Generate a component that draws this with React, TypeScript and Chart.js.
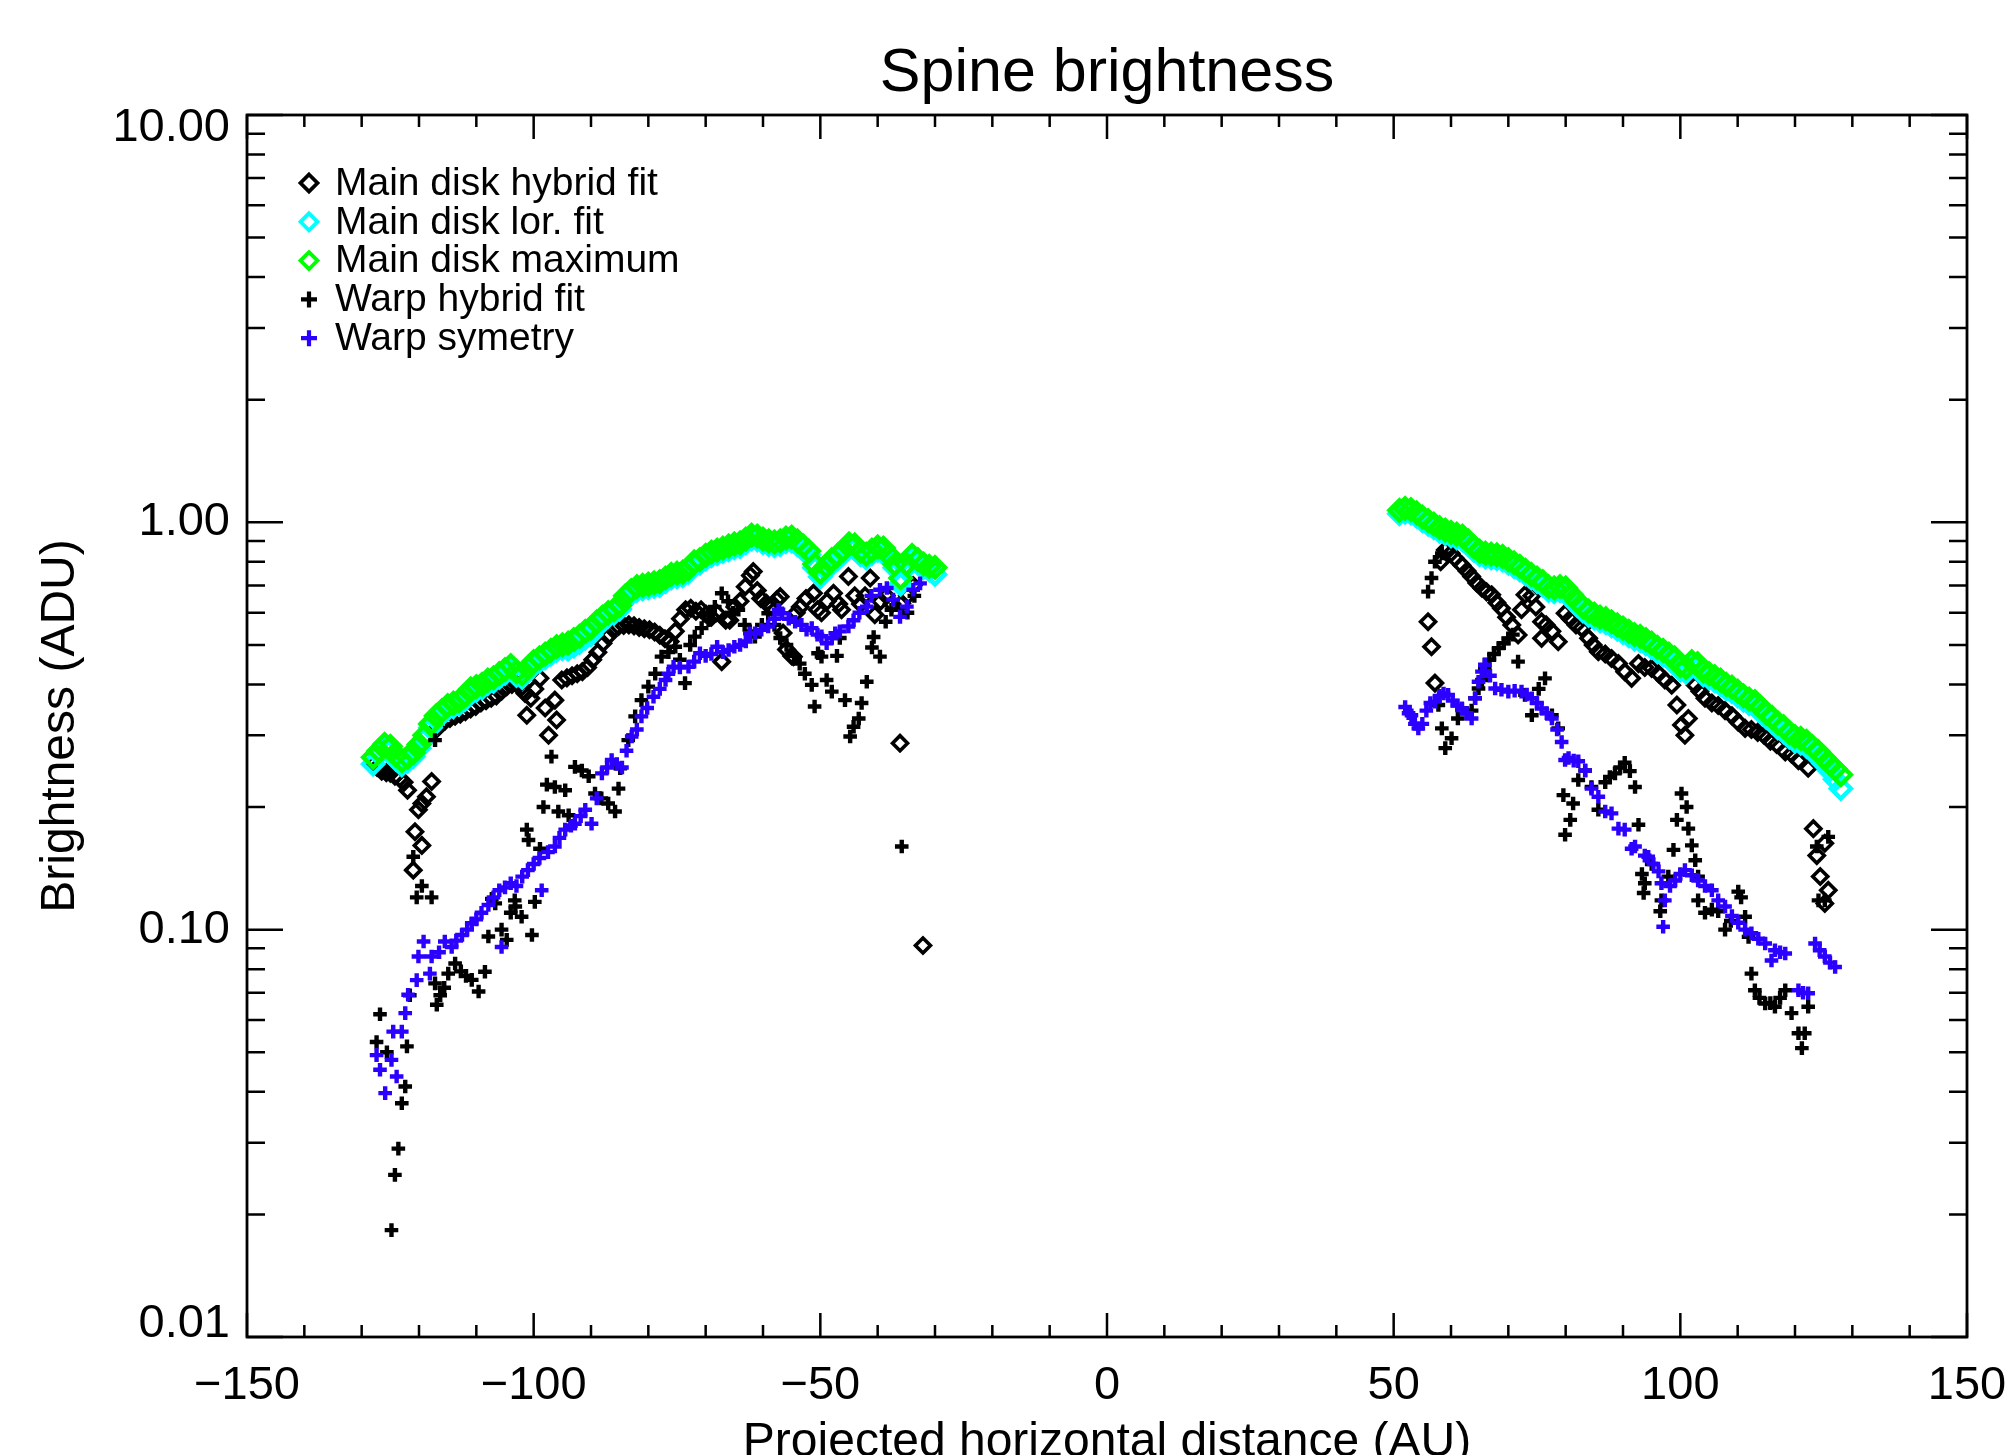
import React, { useEffect, useRef } from 'react';
import { Chart, registerables } from 'chart.js';

Chart.register(...registerables);

// ---------------- DATA ----------------
const titleText = 'Spine brightness';
const xTitle = 'Projected horizontal distance (AU)';
const yTitle = 'Brightness (ADU)';

const seriesLabels = [
  'Main disk hybrid fit',
  'Main disk lor. fit',
  'Main disk maximum',
  'Warp hybrid fit',
  'Warp symetry',
];

const xMajorTicks = [-150, -100, -50, 0, 50, 100, 150];
const xMinorTicks = [-140, -130, -120, -110, -90, -80, -70, -60, -40, -30, -20, -10, 10, 20, 30, 40, 60, 70, 80, 90, 110, 120, 130, 140];
const yMajorTicks = [0.01, 0.1, 1, 10];
const yMinorTicks = [0.02, 0.03, 0.04, 0.05, 0.06, 0.07, 0.08, 0.09, 0.2, 0.3, 0.4, 0.5, 0.6, 0.7, 0.8, 0.9, 2, 3, 4, 5, 6, 7, 8, 9];

const xLeft = [-128, -127, -126, -125, -124, -123, -122, -121, -120, -119, -118, -117, -116, -115, -114, -113, -112, -111, -110, -109, -108, -107, -106, -105, -104, -103, -102, -101, -100, -99, -98, -97, -96, -95, -94, -93, -92, -91, -90, -89, -88, -87, -86, -85, -84, -83, -82, -81, -80, -79, -78, -77, -76, -75, -74, -73, -72, -71, -70, -69, -68, -67, -66, -65, -64, -63, -62, -61, -60, -59, -58, -57, -56, -55, -54, -53, -52, -51, -50, -49, -48, -47, -46, -45, -44, -43, -42, -41, -40, -39, -38, -37, -36, -35, -34, -33, -32, -31, -30];
const xRight = [51, 52, 53, 54, 55, 56, 57, 58, 59, 60, 61, 62, 63, 64, 65, 66, 67, 68, 69, 70, 71, 72, 73, 74, 75, 76, 77, 78, 79, 80, 81, 82, 83, 84, 85, 86, 87, 88, 89, 90, 91, 92, 93, 94, 95, 96, 97, 98, 99, 100, 101, 102, 103, 104, 105, 106, 107, 108, 109, 110, 111, 112, 113, 114, 115, 116, 117, 118, 119, 120, 121, 122, 123, 124, 125, 126, 127, 128];

// Main disk maximum (green)
const maxLeft = [0.265, 0.275, 0.285, 0.282, 0.268, 0.26, 0.265, 0.272, 0.285, 0.30, 0.32, 0.335, 0.345, 0.355, 0.36, 0.365, 0.375, 0.39, 0.395, 0.40, 0.41, 0.415, 0.425, 0.435, 0.445, 0.43, 0.425, 0.44, 0.455, 0.465, 0.475, 0.485, 0.495, 0.50, 0.505, 0.515, 0.525, 0.54, 0.55, 0.57, 0.585, 0.60, 0.61, 0.625, 0.66, 0.68, 0.695, 0.70, 0.705, 0.71, 0.715, 0.73, 0.745, 0.75, 0.755, 0.77, 0.80, 0.81, 0.83, 0.845, 0.855, 0.865, 0.875, 0.885, 0.89, 0.91, 0.93, 0.925, 0.91, 0.90, 0.895, 0.90, 0.915, 0.92, 0.90, 0.875, 0.85, 0.79, 0.755, 0.78, 0.81, 0.83, 0.855, 0.885, 0.88, 0.85, 0.835, 0.855, 0.87, 0.865, 0.83, 0.79, 0.73, 0.79, 0.83, 0.81, 0.79, 0.78, 0.775];
const maxRight = [1.07, 1.082, 1.075, 1.055, 1.03, 1.01, 0.99, 0.97, 0.957, 0.945, 0.935, 0.925, 0.90, 0.87, 0.85, 0.84, 0.835, 0.832, 0.825, 0.81, 0.795, 0.78, 0.762, 0.745, 0.73, 0.715, 0.695, 0.69, 0.695, 0.69, 0.665, 0.64, 0.62, 0.605, 0.595, 0.585, 0.58, 0.57, 0.56, 0.55, 0.54, 0.53, 0.525, 0.515, 0.505, 0.493, 0.485, 0.475, 0.465, 0.445, 0.44, 0.455, 0.45, 0.432, 0.425, 0.418, 0.41, 0.40, 0.394, 0.385, 0.375, 0.368, 0.363, 0.352, 0.34, 0.332, 0.322, 0.315, 0.305, 0.298, 0.295, 0.29, 0.282, 0.274, 0.265, 0.256, 0.248, 0.24];

// Main disk lor. fit (cyan)
const lorLeft = [0.255, 0.27, 0.279, 0.276, 0.262, 0.254, 0.259, 0.266, 0.279, 0.294, 0.313, 0.328, 0.338, 0.348, 0.353, 0.358, 0.367, 0.382, 0.387, 0.392, 0.402, 0.407, 0.416, 0.426, 0.436, 0.421, 0.416, 0.431, 0.446, 0.456, 0.465, 0.475, 0.485, 0.49, 0.488, 0.497, 0.507, 0.52, 0.53, 0.552, 0.573, 0.588, 0.598, 0.612, 0.647, 0.666, 0.681, 0.686, 0.691, 0.696, 0.70, 0.715, 0.73, 0.735, 0.74, 0.755, 0.784, 0.794, 0.813, 0.828, 0.838, 0.848, 0.857, 0.867, 0.872, 0.892, 0.911, 0.906, 0.892, 0.882, 0.877, 0.882, 0.897, 0.90, 0.882, 0.857, 0.833, 0.774, 0.735, 0.764, 0.794, 0.813, 0.838, 0.867, 0.862, 0.833, 0.818, 0.838, 0.853, 0.848, 0.813, 0.774, 0.705, 0.774, 0.813, 0.794, 0.774, 0.764, 0.745];
const lorRight = [1.05, 1.06, 1.055, 1.035, 1.01, 0.99, 0.97, 0.951, 0.938, 0.926, 0.916, 0.907, 0.882, 0.853, 0.833, 0.823, 0.818, 0.815, 0.809, 0.794, 0.779, 0.764, 0.747, 0.73, 0.715, 0.70, 0.681, 0.676, 0.68, 0.672, 0.648, 0.625, 0.606, 0.591, 0.582, 0.573, 0.567, 0.557, 0.547, 0.537, 0.527, 0.517, 0.512, 0.503, 0.493, 0.481, 0.473, 0.463, 0.453, 0.434, 0.429, 0.444, 0.439, 0.422, 0.415, 0.408, 0.40, 0.39, 0.384, 0.375, 0.366, 0.359, 0.354, 0.343, 0.332, 0.323, 0.313, 0.306, 0.297, 0.29, 0.287, 0.282, 0.274, 0.266, 0.256, 0.246, 0.234, 0.222];

// Main disk hybrid fit (black diamonds) [x, y]
const hybridLeft = [
  [-128, 0.255], [-127.3, 0.25], [-126.5, 0.245], [-125.7, 0.243], [-125, 0.242], [-124.2, 0.238], [-123.4, 0.235], [-122.6, 0.23],
  [-122, 0.22], [-121, 0.14], [-120.7, 0.174], [-120.1, 0.197], [-119.5, 0.204], [-119.5, 0.161], [-118.7, 0.212], [-117.8, 0.231],
  [-117, 0.31], [-116.3, 0.318], [-115.5, 0.325], [-114.6, 0.33], [-113.7, 0.334], [-112.8, 0.338], [-111.9, 0.343], [-111, 0.348],
  [-110.1, 0.353], [-109.2, 0.36], [-108.3, 0.365], [-107.4, 0.37], [-106.5, 0.375], [-105.6, 0.385], [-104.7, 0.395], [-103.8, 0.40],
  [-102.9, 0.40], [-102, 0.395], [-101.5, 0.38], [-101.2, 0.336], [-100.5, 0.37], [-99.8, 0.39], [-98.9, 0.414], [-98, 0.35],
  [-97.4, 0.30], [-96.3, 0.366], [-96, 0.327], [-95.1, 0.41], [-94.2, 0.415], [-93.3, 0.42], [-92.4, 0.425], [-91.5, 0.43],
  [-90.6, 0.44], [-89.7, 0.46], [-88.8, 0.48], [-87.9, 0.505], [-87, 0.525], [-86.1, 0.545], [-85.2, 0.555], [-84.3, 0.558],
  [-83.4, 0.56], [-82.5, 0.557], [-81.6, 0.552], [-80.7, 0.548], [-79.8, 0.545], [-78.9, 0.538], [-78, 0.528], [-77.1, 0.518],
  [-76.2, 0.51], [-75.3, 0.54], [-74.4, 0.58], [-73.5, 0.61], [-72.6, 0.615], [-71.7, 0.605], [-70.8, 0.61], [-69.9, 0.595],
  [-69, 0.585], [-68.1, 0.60], [-67.2, 0.455], [-66.5, 0.575], [-65.8, 0.575], [-64.9, 0.62], [-64, 0.64], [-63.1, 0.695],
  [-62.2, 0.74], [-61.7, 0.757], [-61, 0.68], [-60.4, 0.65], [-59.4, 0.633], [-58.5, 0.62], [-57.6, 0.645], [-57, 0.657],
  [-56.5, 0.535], [-55.9, 0.487], [-55, 0.47], [-54.7, 0.468], [-54.2, 0.60], [-53.5, 0.62], [-52.5, 0.65], [-51.2, 0.67],
  [-50.5, 0.61], [-49.8, 0.60], [-48.8, 0.64], [-47.7, 0.67], [-46.8, 0.63], [-46.3, 0.61], [-45.1, 0.736], [-44, 0.66],
  [-43, 0.63], [-42.2, 0.66], [-41.3, 0.73], [-40.5, 0.593], [-39.5, 0.64], [-38.5, 0.66], [-37.5, 0.63], [-36.1, 0.287],
  [-35.8, 0.633], [-34.8, 0.66], [-33.8, 0.70], [-32.1, 0.0914],
];
const hybridRight = [
  [56, 0.57], [56.6, 0.495], [57.2, 0.403], [58.2, 0.80], [59, 0.855], [60, 0.84], [60.7, 0.816], [61.9, 0.785],
  [62.8, 0.76], [63.6, 0.736], [64.5, 0.71], [65.4, 0.689], [66.2, 0.675], [67.1, 0.664], [68, 0.635], [68.8, 0.615],
  [69.7, 0.585], [70.6, 0.56], [71.7, 0.529], [72.3, 0.61], [72.9, 0.664], [74.1, 0.66], [74.8, 0.62], [75.8, 0.57],
  [75.8, 0.519], [76.6, 0.56], [77.6, 0.54], [78.7, 0.509], [79.9, 0.598], [80.8, 0.58], [81.8, 0.56], [82.8, 0.55],
  [84, 0.519], [84.8, 0.50], [85.7, 0.481], [86.9, 0.475], [88, 0.463], [89.2, 0.45], [90.3, 0.43], [91.5, 0.414],
  [92.7, 0.45], [93.8, 0.44], [95, 0.438], [96.2, 0.425], [97.3, 0.41], [98.5, 0.398], [99.4, 0.356], [100.2, 0.318],
  [100.8, 0.30], [101.4, 0.33], [102.6, 0.398], [103.4, 0.385], [104.3, 0.37], [105.5, 0.36], [106.6, 0.355], [107.8, 0.345],
  [109, 0.335], [110.1, 0.323], [111.3, 0.312], [112.4, 0.31], [113.5, 0.305], [114.6, 0.30], [115.7, 0.29], [116.8, 0.285],
  [118.3, 0.273], [119.4, 0.27], [120.6, 0.26], [122.3, 0.249], [123.2, 0.177], [125.2, 0.163], [123.8, 0.152], [124.4, 0.135],
  [125.8, 0.125], [125.2, 0.116],
];

// Warp hybrid fit (black crosses) [x, y]
const warpLeft = [
  [-127.4, 0.053], [-126.8, 0.062], [-125.6, 0.05], [-124.8, 0.0183], [-124.2, 0.025], [-123.6, 0.029], [-123, 0.0375], [-122.4, 0.0412],
  [-122.1, 0.0517], [-121.6, 0.069], [-121, 0.151], [-120.4, 0.12], [-119.5, 0.128], [-117.8, 0.12], [-117.2, 0.292], [-117.2, 0.0738],
  [-116.9, 0.0654], [-116.3, 0.069], [-115.6, 0.072], [-114.9, 0.078], [-113.7, 0.0826], [-112.7, 0.079], [-111.8, 0.077], [-110.8, 0.0753],
  [-109.6, 0.0705], [-108.5, 0.0788], [-107.9, 0.0962], [-107.3, 0.119], [-106.7, 0.116], [-105.6, 0.10], [-104.7, 0.0944], [-104, 0.11],
  [-103.3, 0.118], [-103.2, 0.114], [-102.1, 0.1076], [-101.2, 0.176], [-100.9, 0.166], [-100.3, 0.097], [-99.8, 0.117], [-98.9, 0.158],
  [-98.3, 0.20], [-97.7, 0.227], [-96.9, 0.266], [-96.3, 0.224], [-95.7, 0.195], [-94.5, 0.22], [-93.9, 0.191], [-92.8, 0.251],
  [-91.6, 0.246], [-90.4, 0.238], [-89.3, 0.216], [-88.2, 0.21], [-87, 0.204], [-85.8, 0.195], [-85.2, 0.222], [-84.9, 0.249],
  [-83.5, 0.292], [-82.3, 0.334], [-81.2, 0.366], [-80, 0.395], [-78.8, 0.425], [-77.7, 0.468], [-76.5, 0.48], [-75.3, 0.495],
  [-74.5, 0.46], [-73.6, 0.403], [-72.7, 0.50], [-71.9, 0.524], [-70.7, 0.55], [-69.5, 0.575], [-68.4, 0.62], [-67.2, 0.67],
  [-66.1, 0.64], [-65.2, 0.60], [-64.3, 0.61], [-63.2, 0.56], [-62.3, 0.54], [-61.4, 0.524], [-60.2, 0.56], [-59.1, 0.598],
  [-58, 0.56], [-57, 0.52], [-55.9, 0.50], [-54.6, 0.47], [-53.6, 0.45], [-52.7, 0.425], [-51.5, 0.399], [-51, 0.353],
  [-50.4, 0.477], [-49.8, 0.468], [-48.9, 0.41], [-48, 0.384], [-47.1, 0.47], [-46.6, 0.52], [-45.7, 0.366], [-44.8, 0.298],
  [-44.2, 0.315], [-43.3, 0.33], [-42.8, 0.36], [-41.9, 0.406], [-41, 0.493], [-40.7, 0.523], [-39.6, 0.468], [-38.6, 0.57],
  [-37.6, 0.61], [-35.8, 0.16], [-34.8, 0.60], [-33.6, 0.66],
];
const warpRight = [
  [56, 0.676], [56.6, 0.73], [57.2, 0.80], [58.4, 0.839], [57.8, 0.356], [58.4, 0.312], [59, 0.279], [60.1, 0.295],
  [61.2, 0.33], [61.9, 0.349], [62.8, 0.34], [63.6, 0.345], [64.2, 0.37], [64.8, 0.391], [65.4, 0.41], [65.9, 0.438],
  [66.7, 0.46], [67.5, 0.475], [68.3, 0.491], [69.2, 0.505], [70, 0.519], [70.8, 0.53], [71.7, 0.455], [72.9, 0.377],
  [74.1, 0.336], [75.3, 0.39], [76.4, 0.414], [77.6, 0.336], [78.7, 0.312], [79.6, 0.214], [79.9, 0.171], [80.8, 0.186],
  [81.3, 0.204], [82.2, 0.233], [83.4, 0.246], [84.5, 0.224], [85.7, 0.197], [86.9, 0.23], [87.7, 0.237], [88.6, 0.242],
  [89.5, 0.25], [90.3, 0.257], [91.2, 0.245], [92.1, 0.224], [92.7, 0.181], [93.3, 0.137], [93.6, 0.123], [93.8, 0.13],
  [95, 0.145], [96.5, 0.111], [96.7, 0.118], [97.9, 0.135], [98.8, 0.157], [99.4, 0.186], [100.2, 0.216], [101.1, 0.20],
  [101.4, 0.177], [102, 0.161], [102.6, 0.148], [103.1, 0.135], [103.1, 0.118], [104.3, 0.11], [105.5, 0.112], [106.6, 0.111],
  [107.8, 0.10], [108.8, 0.105], [110.1, 0.124], [110.6, 0.12], [111.3, 0.1076], [111.9, 0.096], [112.4, 0.078], [113, 0.071],
  [113.8, 0.068], [114.8, 0.0659], [115.7, 0.066], [116.5, 0.0647], [117.4, 0.068], [118.3, 0.071], [119.4, 0.0624], [120.6, 0.0557],
  [121.2, 0.0512], [121.7, 0.0557], [122.3, 0.0647], [123.8, 0.16], [124.1, 0.118], [125.2, 0.118], [125.8, 0.169],
];

// Warp symetry (blue crosses) [x, y]
const symLeft = [
  [-127.4, 0.0492], [-126.8, 0.0453], [-125.9, 0.0397], [-124.8, 0.0479], [-124.5, 0.0562], [-123.9, 0.0436], [-123, 0.0562], [-122.4, 0.0624],
  [-121.9, 0.0692], [-120.4, 0.0752], [-120.1, 0.0859], [-119.2, 0.0935], [-118.1, 0.078], [-117.8, 0.0859], [-116.5, 0.088], [-115.5, 0.0935],
  [-114.3, 0.0907], [-113.5, 0.094], [-112.5, 0.097], [-111.6, 0.10], [-110.8, 0.1037], [-110, 0.106], [-109.1, 0.11], [-107.9, 0.115],
  [-107, 0.12], [-106, 0.125], [-105.6, 0.0907], [-105, 0.127], [-104, 0.13], [-103, 0.128], [-102, 0.135], [-101, 0.14],
  [-100, 0.145], [-99, 0.15], [-98.6, 0.125], [-97.5, 0.155], [-96.3, 0.16], [-95.5, 0.168], [-94.5, 0.176], [-93.5, 0.18],
  [-92.8, 0.182], [-91.8, 0.19], [-91, 0.197], [-89.9, 0.182], [-89, 0.21], [-88.1, 0.242], [-87.2, 0.25], [-86.4, 0.261],
  [-85.5, 0.255], [-84.6, 0.25], [-83.8, 0.275], [-82.9, 0.298], [-82, 0.31], [-81.2, 0.334], [-80.2, 0.35], [-79.1, 0.373],
  [-78, 0.39], [-77, 0.41], [-76.5, 0.425], [-75.6, 0.442], [-74.5, 0.44], [-73, 0.442], [-72, 0.455], [-71, 0.477],
  [-70, 0.47], [-69, 0.475], [-68, 0.495], [-67, 0.48], [-66, 0.486], [-65, 0.495], [-64, 0.50], [-63, 0.51],
  [-62.3, 0.534], [-61.4, 0.534], [-60.3, 0.545], [-59.1, 0.555], [-58, 0.58], [-57.3, 0.61], [-56.7, 0.598], [-55.5, 0.58],
  [-54.4, 0.57], [-53.3, 0.56], [-52.4, 0.545], [-51.5, 0.55], [-50.5, 0.53], [-49.8, 0.525], [-48.9, 0.505], [-48, 0.52],
  [-47.4, 0.534], [-46.6, 0.54], [-45.1, 0.555], [-44.2, 0.575], [-43.2, 0.60], [-41.9, 0.621], [-41.1, 0.66], [-39.6, 0.683],
  [-38.4, 0.69], [-37.3, 0.646], [-36.1, 0.586], [-34.9, 0.621], [-33.8, 0.683], [-32.6, 0.708],
];
const symRight = [
  [52, 0.352], [52.6, 0.34], [53.1, 0.336], [53.7, 0.32], [54.3, 0.312], [55, 0.32], [55.7, 0.345], [56.4, 0.36],
  [57.2, 0.363], [58, 0.375], [58.7, 0.38], [59.5, 0.377], [60.3, 0.365], [61.1, 0.355], [61.9, 0.349], [62.7, 0.34],
  [63.6, 0.33], [64.2, 0.37], [64.8, 0.406], [65.4, 0.43], [65.9, 0.447], [66.8, 0.42], [67.7, 0.391], [68.8, 0.388],
  [70, 0.384], [71.1, 0.386], [72.3, 0.384], [73.2, 0.378], [74.1, 0.37], [75, 0.36], [75.8, 0.349], [76.7, 0.34],
  [77.6, 0.33], [78.5, 0.31], [79.3, 0.289], [79.9, 0.261], [80.5, 0.264], [81.4, 0.26], [82.2, 0.259], [83.4, 0.246],
  [84.5, 0.222], [85.7, 0.212], [86.9, 0.195], [88, 0.193], [89.2, 0.177], [90.3, 0.176], [91.5, 0.158], [92.1, 0.16],
  [93.8, 0.152], [94.4, 0.151], [95.3, 0.145], [96.2, 0.139], [96.7, 0.13], [97.3, 0.118], [97, 0.1017], [98.2, 0.128],
  [99.1, 0.132], [100, 0.137], [100.8, 0.14], [102, 0.136], [103.1, 0.132], [104.3, 0.128], [105.5, 0.125], [106.6, 0.118],
  [107.8, 0.114], [109, 0.108], [110.1, 0.104], [111.3, 0.10], [112.4, 0.098], [113.6, 0.095], [114.8, 0.0925], [115.9, 0.084],
  [116.5, 0.089], [117.4, 0.088], [118.3, 0.0874], [120.6, 0.071], [121.4, 0.07], [122.3, 0.0698], [123.5, 0.0925], [124.3, 0.089],
  [125.2, 0.0859], [126.1, 0.083], [127, 0.081],
];

// ---------------- HELPERS ----------------
const FONT = "'Liberation Sans', Arial, Helvetica, sans-serif";
const BLUE = '#2c00ff';

const grid = (xs: number[], ys: number[]) => xs.map((x, i) => ({ x, y: ys[i] }));
const pairs = (arr: number[][]) => arr.map(([x, y]) => ({ x, y }));
const fmtX = (v: number) => (v < 0 ? '\u2212' + Math.abs(v) : String(v));
const isEndY = (v: number) => v === yMajorTicks[0] || v === yMajorTicks[yMajorTicks.length - 1];

const framePlugin = {
  id: 'frame',
  afterDraw(chart: any) {
    const { ctx, chartArea: a, scales } = chart;
    const xs = scales.x;
    const ys = scales.y;
    ctx.save();
    ctx.strokeStyle = '#000';
    ctx.lineWidth = 2.8;
    ctx.strokeRect(a.left, a.top, a.right - a.left, a.bottom - a.top);
    ctx.lineWidth = 2.5;
    ctx.beginPath();
    const xt = (v: number, len: number) => {
      const p = xs.getPixelForValue(v);
      ctx.moveTo(p, a.bottom);
      ctx.lineTo(p, a.bottom - len);
      ctx.moveTo(p, a.top);
      ctx.lineTo(p, a.top + len);
    };
    const yt = (v: number, len: number) => {
      const p = ys.getPixelForValue(v);
      ctx.moveTo(a.left, p);
      ctx.lineTo(a.left + len, p);
      ctx.moveTo(a.right, p);
      ctx.lineTo(a.right - len, p);
    };
    xMajorTicks.forEach((v) => xt(v, 24));
    xMinorTicks.forEach((v) => xt(v, 12));
    yMajorTicks.forEach((v) => yt(v, 36));
    yMinorTicks.forEach((v) => yt(v, 18));
    ctx.stroke();

    // title
    ctx.fillStyle = '#000';
    ctx.font = `61px ${FONT}`;
    ctx.textAlign = 'center';
    ctx.textBaseline = 'alphabetic';
    ctx.fillText(titleText, (a.left + a.right) / 2, 91);

    // legend
    ctx.font = `39px ${FONT}`;
    ctx.textAlign = 'left';
    ctx.textBaseline = 'middle';
    chart.data.datasets.forEach((ds: any, i: number) => {
      const cy = a.top + 68 + i * 38.8;
      const cx = a.left + 62;
      ctx.strokeStyle = ds.borderColor;
      ctx.beginPath();
      if (ds.pointStyle === 'rectRot') {
        const r = 8.5;
        ctx.lineWidth = 3.8;
        ctx.moveTo(cx, cy - r);
        ctx.lineTo(cx + r, cy);
        ctx.lineTo(cx, cy + r);
        ctx.lineTo(cx - r, cy);
        ctx.closePath();
      } else {
        const r = 8;
        ctx.lineWidth = 4.2;
        ctx.moveTo(cx - r, cy);
        ctx.lineTo(cx + r, cy);
        ctx.moveTo(cx, cy - r);
        ctx.lineTo(cx, cy + r);
      }
      ctx.stroke();
      ctx.fillStyle = '#000';
      ctx.fillText(ds.label, a.left + 88, cy + 1);
    });
    ctx.restore();
  },
};

export default function App() {
  const ref = useRef<HTMLCanvasElement | null>(null);

  useEffect(() => {
    const canvas = ref.current;
    if (!canvas) return;
    const diamond = (color: string, r: number, w: number) => ({
      pointStyle: 'rectRot',
      pointRadius: r,
      pointBorderWidth: w,
      pointBackgroundColor: 'rgba(0,0,0,0)',
      pointBorderColor: color,
      borderColor: color,
      backgroundColor: 'rgba(0,0,0,0)',
      showLine: false,
    });
    const cross = (color: string) => ({
      pointStyle: 'cross',
      pointRadius: 6.8,
      pointBorderWidth: 4.4,
      pointBorderColor: color,
      borderColor: color,
      backgroundColor: color,
      showLine: false,
    });
    const chart = new Chart(canvas, {
      type: 'scatter',
      data: {
        datasets: [
          { label: seriesLabels[0], data: [...pairs(hybridLeft), ...pairs(hybridRight)], order: 5, ...diamond('#000000', 7.5, 3.6) },
          { label: seriesLabels[1], data: [...grid(xLeft, lorLeft), ...grid(xRight, lorRight)], order: 4, ...diamond('#00ffff', 10, 4.4) },
          { label: seriesLabels[2], data: [...grid(xLeft, maxLeft), ...grid(xRight, maxRight)], order: 3, ...diamond('#00ff00', 10, 4.4) },
          { label: seriesLabels[3], data: [...pairs(warpLeft), ...pairs(warpRight)], order: 2, ...cross('#000000') },
          { label: seriesLabels[4], data: [...pairs(symLeft), ...pairs(symRight)], order: 1, ...cross(BLUE) },
        ] as any,
      },
      options: {
        animation: false,
        responsive: false,
        devicePixelRatio: 1,
        layout: { padding: { left: 0, right: 45, top: 115, bottom: 0 } },
        plugins: {
          legend: { display: false },
          tooltip: { enabled: false },
          title: { display: false },
        },
        scales: {
          x: {
            type: 'linear',
            min: -150,
            max: 150,
            grid: { display: false, drawTicks: false },
            border: { display: false },
            afterBuildTicks: (s: any) => {
              s.ticks = xMajorTicks.map((v) => ({ value: v }));
            },
            afterFit: (s: any) => {
              s.height = 135;
              s.paddingLeft = 0;
              s.paddingRight = 0;
            },
            ticks: {
              autoSkip: false,
              maxRotation: 0,
              padding: 21,
              color: '#000',
              font: { family: FONT, size: 47 },
              callback: (v: any) => fmtX(Number(v)),
            },
            title: {
              display: true,
              text: xTitle,
              color: '#000',
              font: { family: FONT, size: 48 },
              padding: { top: 0, bottom: 0 },
            },
          },
          y: {
            type: 'logarithmic',
            min: 0.01,
            max: 10,
            grid: { display: false, drawTicks: false },
            border: { display: false },
            afterBuildTicks: (s: any) => {
              s.ticks = yMajorTicks.map((v) => ({ value: v }));
            },
            afterFit: (s: any) => {
              s.width = 247;
              s.paddingTop = 0;
              s.paddingBottom = 0;
            },
            ticks: {
              autoSkip: false,
              padding: 17,
              color: '#000',
              font: (c: any) => ({
                family: FONT,
                size: 47,
                lineHeight: c.tick && isEndY(c.tick.value) ? 0.57 : 1.2,
              }),
              callback: (v: any) => {
                const n = Number(v);
                const s = n.toFixed(2);
                if (n === yMajorTicks[yMajorTicks.length - 1]) return ['', s];
                if (n === yMajorTicks[0]) return [s, ''];
                return s;
              },
            },
            title: {
              display: true,
              text: yTitle,
              color: '#000',
              font: { family: FONT, size: 48 },
              padding: { top: 32, bottom: 0 },
            },
          },
        },
      } as any,
      plugins: [framePlugin],
    });
    return () => chart.destroy();
  }, []);

  return (
    <div
      style={{
        position: 'fixed',
        left: 0,
        top: 0,
        width: 2012,
        height: 1455,
        overflow: 'hidden',
        background: '#ffffff',
      }}
    >
      <canvas ref={ref} width={2012} height={1472} style={{ display: 'block', width: 2012, height: 1472 }} />
    </div>
  );
}
